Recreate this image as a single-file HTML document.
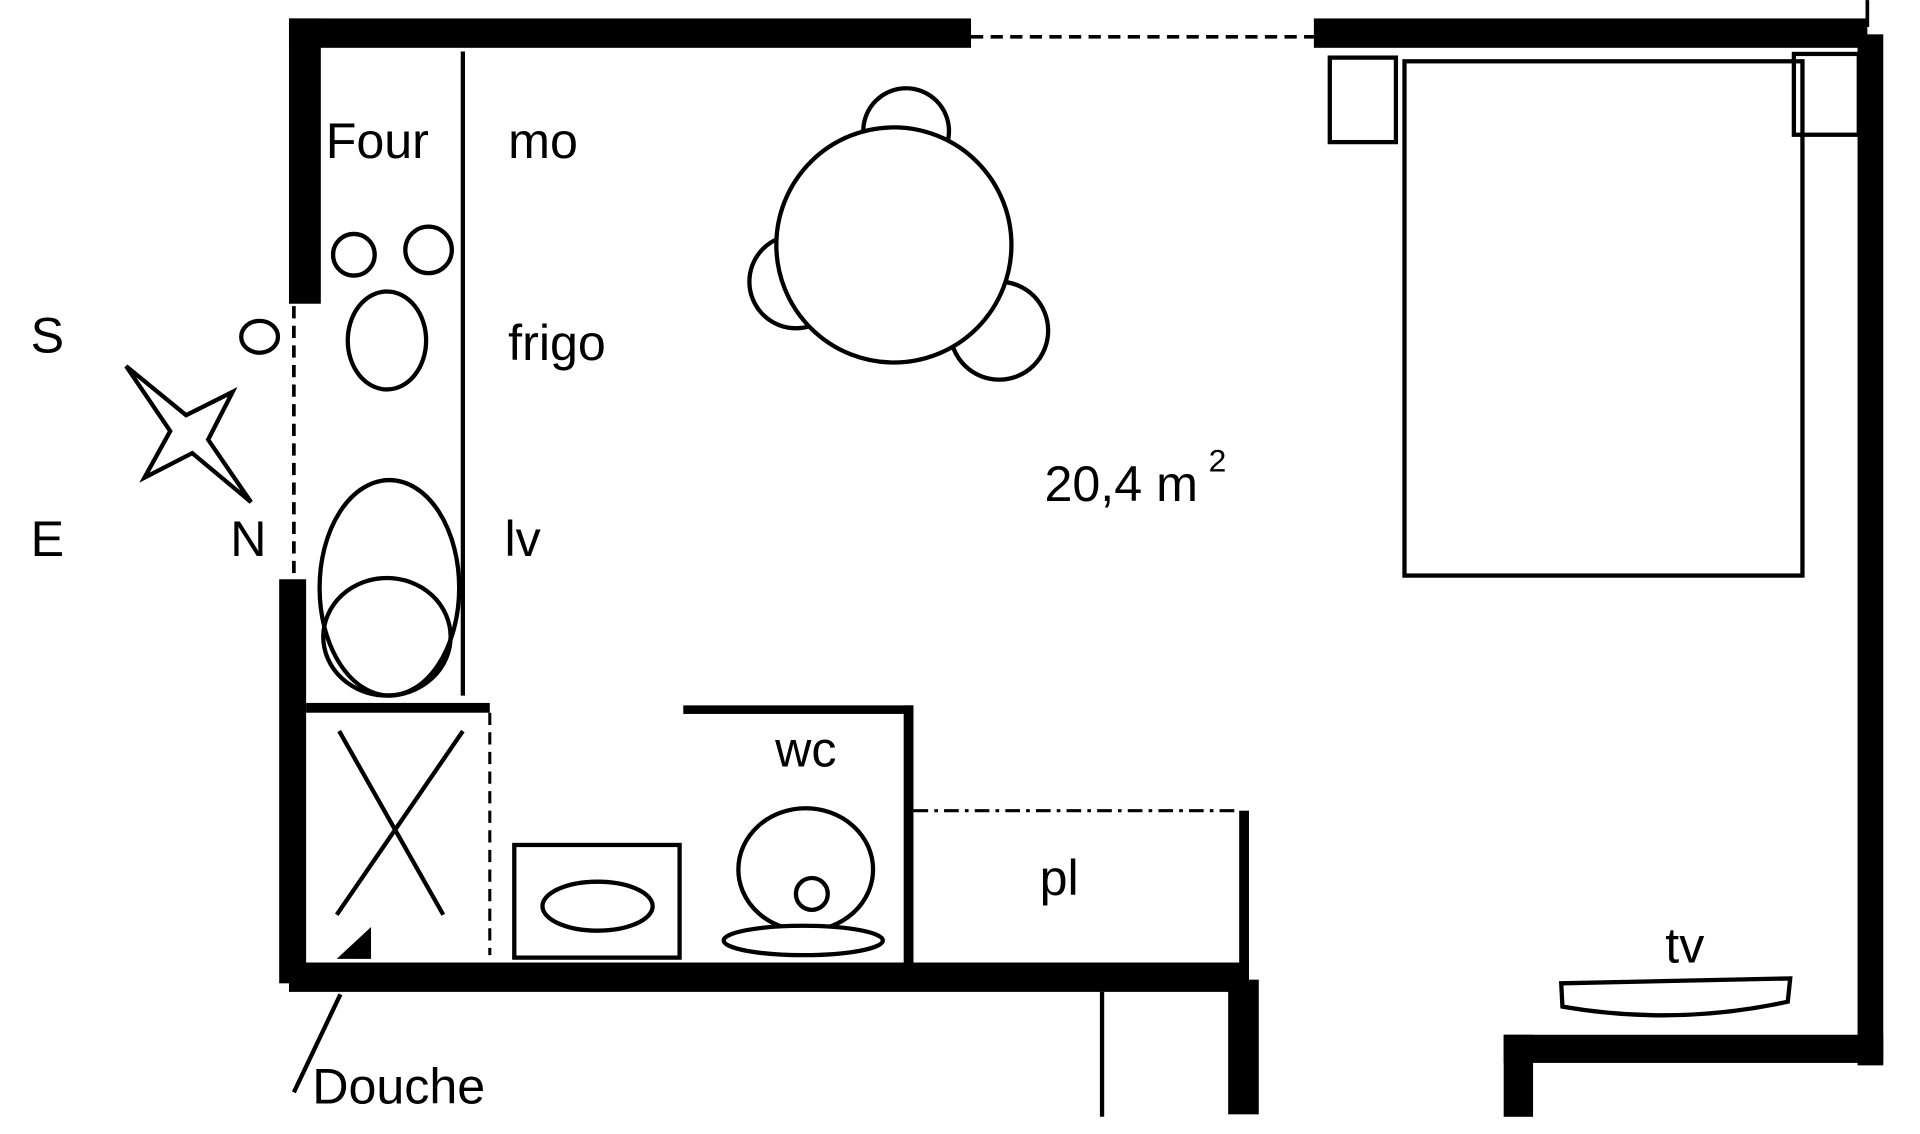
<!DOCTYPE html>
<html><head><meta charset="utf-8"><style>
html,body{margin:0;padding:0;background:#fff;width:1920px;height:1134px;overflow:hidden}
svg{display:block}
text{font-family:"Liberation Sans",Arial,sans-serif;fill:#000}
</style></head><body>
<svg width="1920" height="1134" viewBox="0 0 1568 926" xmlns="http://www.w3.org/2000/svg">
<g fill="#000">
<rect x="236" y="15" width="557" height="24"/>
<rect x="1073" y="15" width="452" height="24"/>
<rect x="1517" y="28" width="21" height="842"/>
<rect x="236" y="15" width="26" height="233"/>
<rect x="228" y="473" width="22" height="330"/>
<rect x="236" y="786" width="784" height="24"/>
<rect x="1003" y="800" width="25" height="110"/>
<rect x="1228" y="845" width="310" height="23"/>
<rect x="1228" y="845" width="24" height="67"/>
<rect x="250" y="574" width="150" height="8"/>
<rect x="558" y="576" width="188" height="7"/>
<rect x="738" y="576" width="8" height="212"/>
<rect x="1012" y="662" width="8" height="130"/>
<polygon points="275,783 303,757 303,783"/>
</g>
<g fill="none" stroke="#000">
<line x1="1525" y1="0" x2="1525" y2="22" stroke-width="3"/>
<line x1="793" y1="30" x2="1073" y2="30" stroke-width="3" stroke-dasharray="10,6"/>
<line x1="240" y1="250" x2="240" y2="470" stroke-width="3" stroke-dasharray="10,6"/>
<line x1="400" y1="582" x2="400" y2="780" stroke-width="2.5" stroke-dasharray="10,6"/>
<line x1="746" y1="662" x2="1012" y2="662" stroke-width="2.5" stroke-dasharray="12,5,3,5"/>
<line x1="378" y1="42" x2="378" y2="568" stroke-width="3.5"/>
<line x1="900" y1="810" x2="900" y2="912" stroke-width="3.5"/>
<rect x="1147" y="50" width="325" height="420" stroke-width="3.5"/>
<rect x="1086" y="47" width="54" height="69" stroke-width="3.5"/>
<rect x="1465" y="44" width="53" height="66" stroke-width="3.5"/>
<g stroke-width="3.5" fill="#fff">
<circle cx="740" cy="107" r="35"/>
<circle cx="650" cy="230" r="38"/>
<circle cx="816" cy="270" r="40"/>
<circle cx="730" cy="200" r="96"/>
</g>
<g stroke-width="3.5">
<circle cx="289" cy="208" r="17"/>
<circle cx="350" cy="204" r="19"/>
<ellipse cx="316" cy="278" rx="32" ry="40"/>
<ellipse cx="318" cy="480" rx="57" ry="88"/>
<ellipse cx="316" cy="520" rx="52" ry="48"/>
<ellipse cx="212" cy="275" rx="15" ry="13"/>
<polygon points="103,299 152,339 190,320 170,359 205,410 157,370 118,390 139,352" stroke-linejoin="miter"/>
<line x1="277" y1="597" x2="362" y2="747"/>
<line x1="378" y1="597" x2="275" y2="747"/>
<line x1="278" y1="812" x2="240" y2="892"/>
<rect x="420" y="690" width="135" height="92"/>
<ellipse cx="488" cy="740" rx="45" ry="20"/>
<ellipse cx="658" cy="710" rx="55" ry="50"/>
<circle cx="663" cy="730" r="13"/>
<ellipse cx="656" cy="768" rx="65" ry="12" fill="#fff"/>
<path d="M1275,803 L1462,799 L1460,818 Q1368,838 1276,822 Z"/>
</g>
</g>
<g font-size="41">
<text x="266" y="129">Four</text>
<text x="415" y="129">mo</text>
<text x="415" y="294">frigo</text>
<text x="412" y="454">lv</text>
<text x="25" y="288">S</text>
<text x="25" y="454">E</text>
<text x="188" y="454">N</text>
<text x="853" y="409">20,4 m</text>
<text x="987" y="385" font-size="26">2</text>
<text x="633" y="626">wc</text>
<text x="849" y="731">pl</text>
<text x="1360" y="786">tv</text>
<text x="255" y="901">Douche</text>
</g>
</svg>
</body></html>
